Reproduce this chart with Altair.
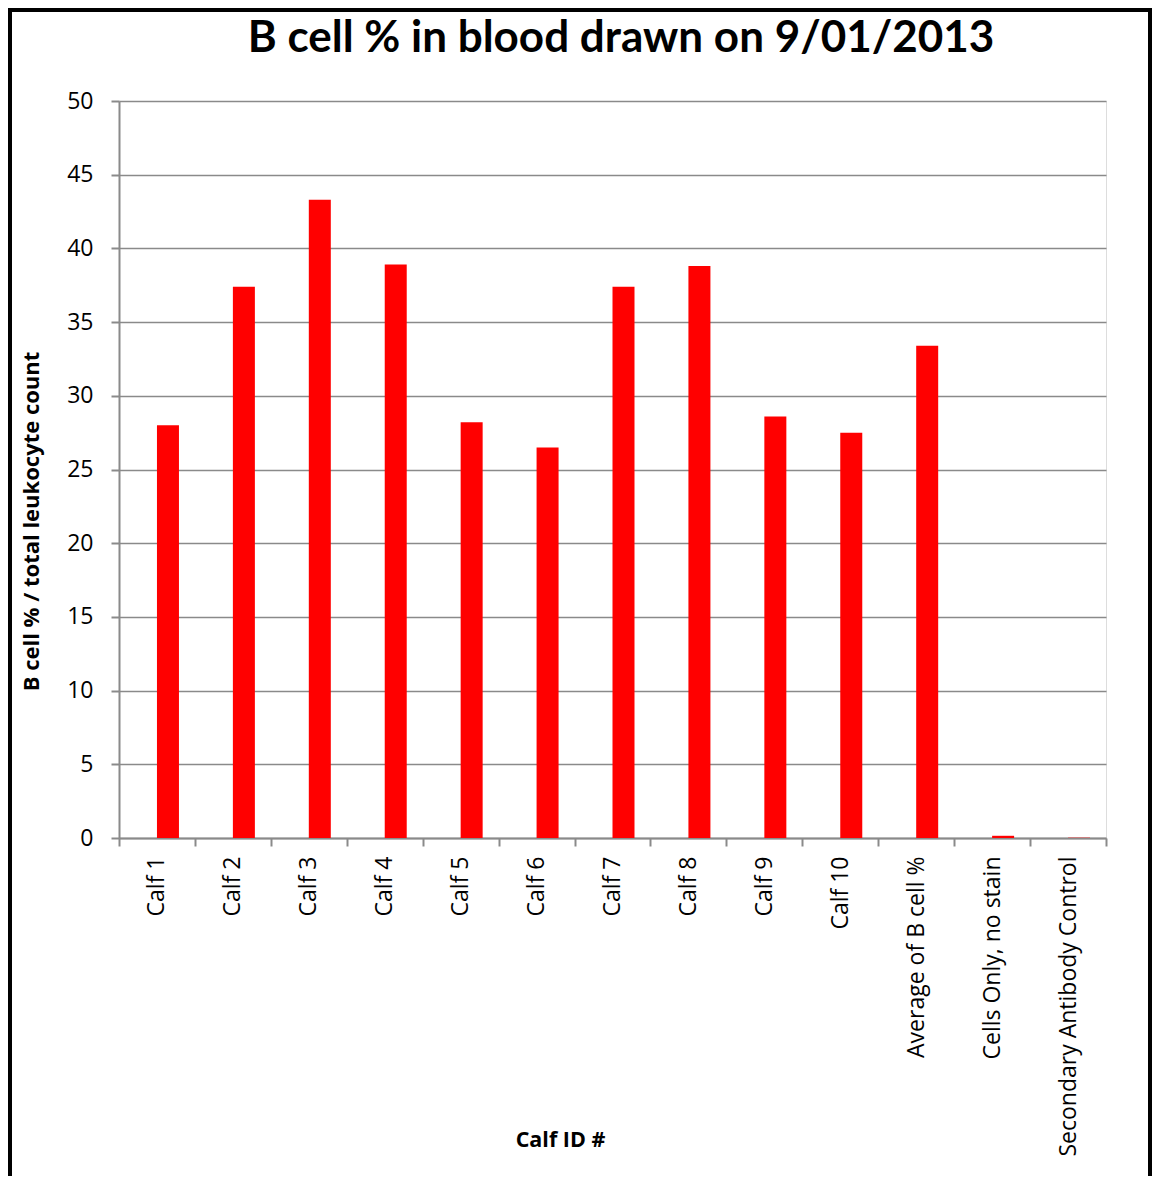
import altair as alt
import pandas as pd

categories = ["Calf 1", "Calf 2", "Calf 3", "Calf 4", "Calf 5", "Calf 6", "Calf 7",
              "Calf 8", "Calf 9", "Calf 10", "Average of B cell %",
              "Cells Only, no stain", "Secondary Antibody Control"]
values = [28.0, 37.4, 43.3, 38.9, 28.2, 26.5, 37.4, 38.8, 28.6, 27.5, 33.4, 0.15, 0.02]
y_ticks = [0, 5, 10, 15, 20, 25, 30, 35, 40, 45, 50]
title_text = "B cell % in blood drawn on 9/01/2013"

df = pd.DataFrame({"cat": categories, "val": values})

GRAY = "#8a8a8a"
FONT = "Open Sans"

bars = alt.Chart(df).mark_bar(color="#FF0000", size=22, xOffset=11).encode(
    x=alt.X("cat:N", sort=categories,
            scale=alt.Scale(paddingInner=0, paddingOuter=0),
            axis=alt.Axis(title="Calf ID #", labelAngle=-90, labelAlign="right",
                          labelBaseline="middle", labelPadding=10, labelFontSize=23,
                          labelFont=FONT, labelColor="black", labelLimit=500,
                          tickBand="extent", tickSize=8, tickColor=GRAY, tickWidth=2,
                          domainColor=GRAY, domainWidth=2,
                          titleFont=FONT, titleFontSize=21.5, titleFontWeight="bold",
                          titleColor="black", titleX=441, titleY=302,
                          titleAlign="center", titleBaseline="middle")),
    y=alt.Y("val:Q", scale=alt.Scale(domain=[0, 50], nice=False),
            axis=alt.Axis(title="B cell % / total leukocyte count", values=y_ticks,
                          labelFontSize=23, labelFont=FONT, labelColor="black",
                          labelPadding=18, tickSize=8, tickColor=GRAY, tickWidth=2,
                          domainColor=GRAY, domainWidth=2,
                          grid=True, gridColor=GRAY, gridWidth=1.5,
                          titleFont=FONT, titleFontSize=22, titleFontWeight="bold",
                          titleColor="black", titleX=-88, titleY=420,
                          titleAngle=270, titleAlign="center", titleBaseline="middle")),
)

one = pd.DataFrame({"k": [0]})
title_mark = alt.Chart(one).mark_text(
    text=title_text, font="Lato", fontSize=44, fontWeight="bold", color="black",
    align="center", baseline="alphabetic").encode(
    x=alt.value(502), y=alt.value(-49))
left_border = alt.Chart(one).mark_rule(color="black", strokeWidth=4).encode(
    x=alt.value(-109), y=alt.value(-91), y2=alt.value(1080))
top_border = alt.Chart(one).mark_rule(color="black", strokeWidth=4).encode(
    x=alt.value(-111), x2=alt.value(1033), y=alt.value(-91))
right_border = alt.Chart(one).mark_rule(color="black", strokeWidth=4).encode(
    x=alt.value(1031), y=alt.value(-91), y2=alt.value(1080))

chart = alt.layer(bars, title_mark, left_border, top_border, right_border).properties(
    width=987, height=737,
    autosize=alt.AutoSizeParams(type="none"),
    padding={"left": 111, "top": 93, "right": 46, "bottom": 338},
).configure_view(stroke=None).configure(background="white")

chart.save("out.html", embed_options={"renderer": "svg", "actions": False})
